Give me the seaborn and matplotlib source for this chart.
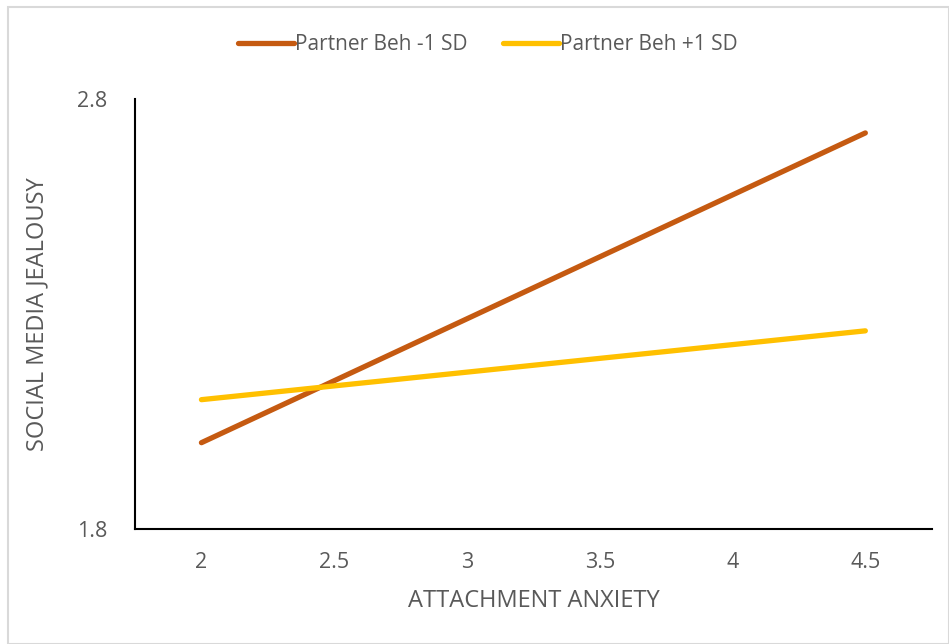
import seaborn as sns
import matplotlib.pyplot as plt
import matplotlib.patches as mpatches
import pandas as pd

# data
anxiety = [2, 4.5]
low_sd = [2.00, 2.72]
high_sd = [2.10, 2.26]
series_names = ["Partner Beh -1 SD", "Partner Beh +1 SD"]
x_ticks = [2, 2.5, 3, 3.5, 4, 4.5]
y_ticks = [1.8, 2.8]

df = pd.DataFrame({
    "Attachment Anxiety": anxiety * 2,
    "Jealousy": low_sd + high_sd,
    "Series": [series_names[0]] * 2 + [series_names[1]] * 2,
})

sns.set_style("white")
plt.rcParams["font.family"] = ["Open Sans", "DejaVu Sans"]

text_gray = "#595959"
fig = plt.figure(figsize=(9.49, 6.44), dpi=100)
ax = fig.add_axes([0.1423, 0.179, 0.8395, 0.668])

sns.lineplot(
    data=df, x="Attachment Anxiety", y="Jealousy", hue="Series",
    palette=["#C55A11", "#FFC000"], linewidth=3.8,
    solid_capstyle="round", ax=ax,
)

ax.set_xlim(1.75, 4.75)
ax.set_ylim(1.8, 2.8)
ax.set_xticks(x_ticks)
ax.set_xticklabels([f"{t:g}" for t in x_ticks])
ax.set_yticks(y_ticks)
ax.tick_params(axis="both", length=0, labelsize=15.5, colors=text_gray)
ax.tick_params(axis="x", pad=17)
ax.tick_params(axis="y", pad=20)

for side in ["top", "right"]:
    ax.spines[side].set_visible(False)
for side in ["left", "bottom"]:
    ax.spines[side].set_color("black")
    ax.spines[side].set_linewidth(1.5)

ax.set_xlabel("ATTACHMENT ANXIETY", fontsize=17, color=text_gray, labelpad=11)
ax.set_ylabel("SOCIAL MEDIA JEALOUSY", fontsize=17, color=text_gray, labelpad=20)

ax.legend(
    loc="center", bbox_to_anchor=(488 / 949, 1 - 45 / 644),
    bbox_transform=fig.transFigure, ncol=2, frameon=False,
    fontsize=15, handlelength=2.7, handletextpad=0.05, columnspacing=1.7,
    labelcolor=text_gray,
)

# light chart border like the original
fig.patches.append(mpatches.Rectangle(
    (8 / 949, 0.0), 1 - 8 / 949, 1 - 7 / 644, transform=fig.transFigure,
    fill=False, edgecolor="#D9D9D9", linewidth=1.5,
))

plt.savefig("out.png", dpi=100)
plt.close()
